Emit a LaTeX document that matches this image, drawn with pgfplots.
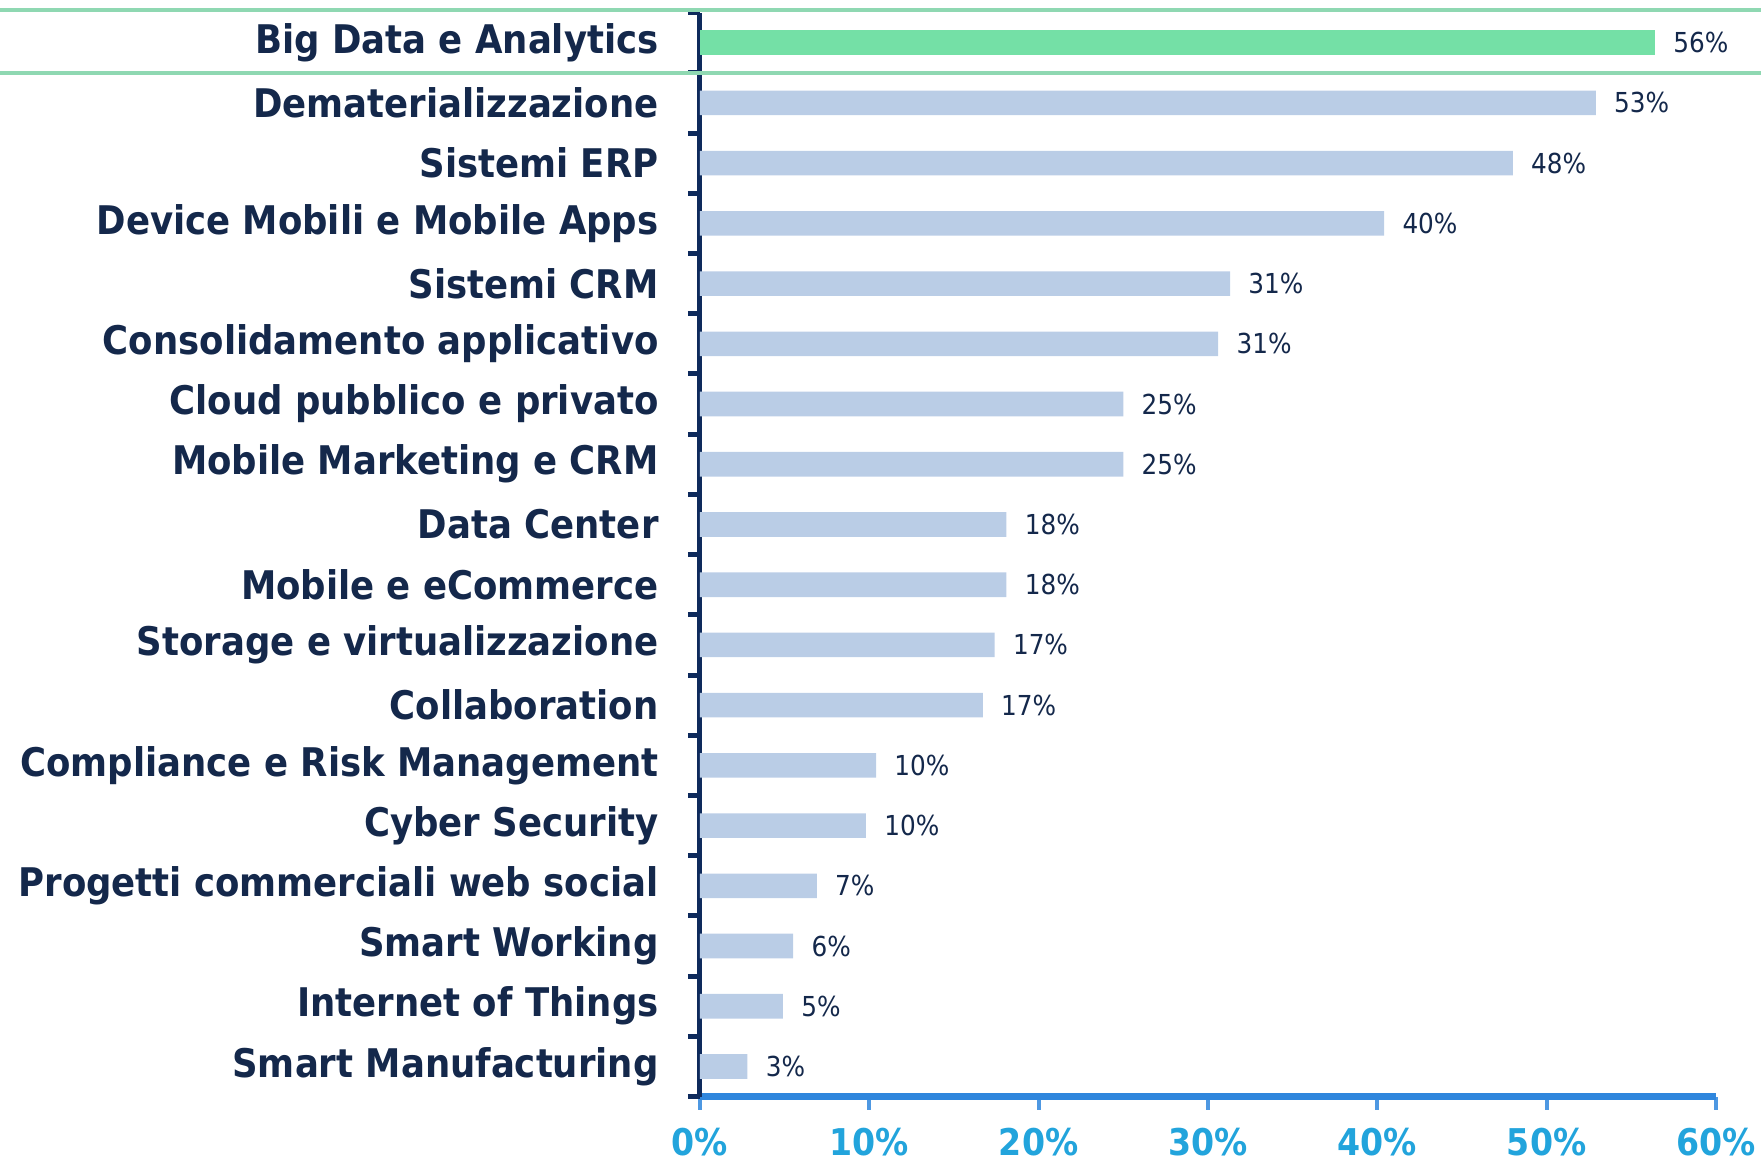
\documentclass[border=0pt]{standalone}
\usepackage{pgfplots}
\pgfplotsset{compat=1.18}
\usepackage{fontspec}
\setmainfont{DejaVu Sans Condensed}
\definecolor{navy}{HTML}{14284B}
\definecolor{axnavy}{HTML}{0E2A5C}
\definecolor{barblue}{HTML}{BACDE6}
\definecolor{bargreen}{HTML}{74E0A6}
\definecolor{linegreen}{HTML}{8FD8B2}
\definecolor{xaxblue}{HTML}{2F86DD}
\definecolor{xlab}{HTML}{22A4DC}
\begin{document}
\begin{tikzpicture}
\begin{axis}[
  name=ax, at={(0,0)}, anchor=south west,
  scale only axis, width=508bp, height=542bp,
  xmin=0, xmax=60, ymin=-0.5, ymax=17.5, enlargelimits=false,
  xbar, bar width=12.3bp, bar shift=0pt,
  axis x line*=bottom, axis y line*=left,
  x axis line style={xaxblue, line width=3.5bp},
  y axis line style={axnavy, line width=2.5bp},
  tick align=outside,
  major tick length=6.5bp, minor tick length=6bp,
  xtick={0,10,20,30,40,50,60},
  xticklabels={0\%,10\%,20\%,30\%,40\%,50\%,60\%},
  major x tick style={xaxblue!85!white, line width=2bp},
  xticklabel style={anchor=north, inner sep=0pt, yshift=-9bp, text=xlab, font=\bfseries\fontsize{18.5}{18.5}\selectfont},
  ytick={0,...,17},
  yticklabels={Smart Manufacturing, Internet of Things, Smart Working, Progetti commerciali web social, Cyber Security, Compliance e Risk Management, Collaboration, Storage e virtualizzazione, Mobile e eCommerce, Data Center, Mobile Marketing e CRM, Cloud pubblico e privato, Consolidamento applicativo, Sistemi CRM, Device Mobili e Mobile Apps, Sistemi ERP, Dematerializzazione, Big Data e Analytics},
  major y tick style={draw=none},
  minor ytick={-0.5,0.5,...,17.5},
  minor y tick style={axnavy, line width=2.5bp},
  yticklabel style={anchor=east, inner sep=0pt, xshift=-14bp, text=navy, font=\bfseries\fontsize{19.8}{19.8}\selectfont},
  point meta=explicit symbolic,
  nodes near coords,
  every node near coord/.append style={anchor=west, inner sep=0pt, xshift=9bp, text=navy, font=\fontsize{13.8}{13.8}\selectfont},
  clip=false,
]
\addplot[fill=barblue, draw=none] coordinates {
(2.8,0) [3\%]
(4.9,1) [5\%]
(5.5,2) [6\%]
(6.9,3) [7\%]
(9.8,4) [10\%]
(10.4,5) [10\%]
(16.7,6) [17\%]
(17.4,7) [17\%]
(18.1,8) [18\%]
(18.1,9) [18\%]
(25.0,10) [25\%]
(25.0,11) [25\%]
(30.6,12) [31\%]
(31.3,13) [31\%]
(40.4,14) [40\%]
(48.0,15) [48\%]
(52.9,16) [53\%]
};
\addplot[fill=bargreen, draw=none] coordinates {
(56.4,17) [56\%]
};
\draw[linegreen, line width=2bp] ([xshift=-350bp]axis cs:0,17.54) -- ([xshift=530.5bp]axis cs:0,17.54);
\draw[linegreen, line width=2bp] ([xshift=-350bp]axis cs:0,16.5) -- ([xshift=530.5bp]axis cs:0,16.5);
\end{axis}
\pgfresetboundingbox
\path ([shift={(-350bp,-33bp)}]ax.south west) rectangle ([shift={(530.5bp,6.3bp)}]ax.north west);
\end{tikzpicture}
\end{document}
